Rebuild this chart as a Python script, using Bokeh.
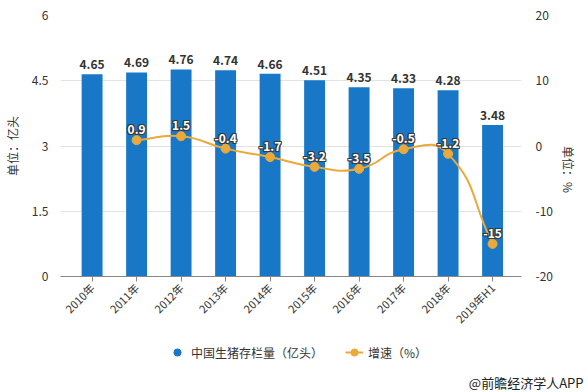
import math
from bokeh.plotting import figure
from bokeh.layouts import column
from bokeh.models import Range1d, LinearAxis, FixedTicker, Legend, LegendItem, Title
from bokeh.core.properties import value
from bokeh.embed import file_html
from bokeh.resources import INLINE

categories = ["2010年", "2011年", "2012年", "2013年", "2014年",
              "2015年", "2016年", "2017年", "2018年", "2019年H1"]
stock = [4.65, 4.69, 4.76, 4.74, 4.66, 4.51, 4.35, 4.33, 4.28, 3.48]
growth_cats = categories[1:]
growth = [0.9, 1.5, -0.4, -1.7, -3.2, -3.5, -0.5, -1.2, -15]
left_ticks = [0, 1.5, 3, 4.5, 6]
left_labels = ["0", "1.5", "3", "4.5", "6"]
right_ticks = [-20, -10, 0, 10, 20]
right_labels = ["-20", "-10", "0", "10", "20"]
legend_labels = ["中国生猪存栏量（亿头）", "增速（%）"]
source_note = "@前瞻经济学人APP"

FONT = "Noto Sans CJK SC"
BLUE = "#1878C7"
ORANGE = "#EBA93A"
TXT = "#333333"

W = 588
LH = 56                      # height of the legend strip below the chart
H = 392 - LH
ML, MR, MT, MB = 52, 55, 15, 60
FW, FH = W - ML - MR, H - MT - MB

xr = Range1d(-0.71, 9.65)
p = figure(width=W, height=H, output_backend="svg", toolbar_location=None,
           x_range=xr, y_range=Range1d(0, 6),
           min_border_left=ML, min_border_right=MR, min_border_top=MT, min_border_bottom=MB)
p.outline_line_color = None
p.background_fill_color = "white"
p.extra_y_ranges = {"right": Range1d(-20, 20)}

idx = list(range(len(categories)))
gidx = [categories.index(c) for c in growth_cats]

# axes
xa = p.xaxis[0]
xa.ticker = FixedTicker(ticks=idx)
xa.major_label_overrides = {i: c for i, c in zip(idx, categories)}
xa.major_label_orientation = math.pi / 4
xa.major_label_text_font = FONT
xa.major_label_text_font_size = "11px"
xa.major_label_text_color = TXT
xa.axis_line_color = "#888888"
xa.major_tick_line_color = "#888888"
xa.major_tick_out = 5
xa.major_tick_in = 0
xa.minor_tick_line_color = None
xa.major_label_standoff = 4

ya = p.yaxis[0]
ya.ticker = FixedTicker(ticks=left_ticks)
ya.major_label_overrides = {t: s for t, s in zip(left_ticks, left_labels)}
ya.axis_line_color = None
ya.major_tick_line_color = None
ya.minor_tick_line_color = None
ya.major_label_text_font = FONT
ya.major_label_text_font_size = "12px"
ya.major_label_text_color = TXT
ya.major_label_standoff = 6
ya.axis_label = "单位：亿头"
ya.axis_label_text_font = FONT
ya.axis_label_text_font_style = "normal"
ya.axis_label_text_font_size = "12px"
ya.axis_label_text_color = TXT
ya.axis_label_standoff = 8

ra = LinearAxis(y_range_name="right", ticker=FixedTicker(ticks=right_ticks))
ra.major_label_overrides = {t: s for t, s in zip(right_ticks, right_labels)}
ra.axis_line_color = None
ra.major_tick_line_color = None
ra.minor_tick_line_color = None
ra.major_label_text_font = FONT
ra.major_label_text_font_size = "12px"
ra.major_label_text_color = TXT
ra.major_label_standoff = 8
ra.axis_label = "单位：%"
ra.axis_label_orientation = -math.pi / 2
ra.axis_label_text_font = FONT
ra.axis_label_text_font_style = "normal"
ra.axis_label_text_font_size = "12px"
ra.axis_label_text_color = TXT
ra.axis_label_standoff = 13
p.add_layout(ra, "right")

p.xgrid.grid_line_color = None
p.ygrid.ticker = FixedTicker(ticks=left_ticks)
p.ygrid.grid_line_color = "#E3E3E3"

# bars
p.vbar(x=idx, top=stock, width=0.47, fill_color=BLUE, line_color=None)
p.text(x=idx, y=stock, text=[f"{v:.2f}" for v in stock], y_offset=-5,
       text_align="center", text_baseline="bottom", text_font=value(FONT),
       text_font_size="12px", text_font_style="bold", text_color=TXT)

# smooth line (echarts-like bezier through data points)
sx = FW / (xr.end - xr.start)
sy = FH / 40.0
n = len(gidx)
pts = list(zip(gidx, growth))
smooth = 0.5
cps = []
for i in range(n):
    x, y = pts[i]
    px, py = pts[i - 1] if i > 0 else pts[i]
    nx, ny = pts[i + 1] if i < n - 1 else pts[i]
    vx, vy = nx - px, ny - py
    d0 = math.hypot((x - px) * sx, (y - py) * sy)
    d1 = math.hypot((nx - x) * sx, (ny - y) * sy)
    tot = d0 + d1 if d0 + d1 > 0 else 1
    c_in = (x - vx * smooth * d0 / tot, y - vy * smooth * d0 / tot)
    c_out = (x + vx * smooth * d1 / tot, y + vy * smooth * d1 / tot)
    cps.append((c_in, c_out))
x0 = [pts[i][0] for i in range(n - 1)]
y0 = [pts[i][1] for i in range(n - 1)]
x1 = [pts[i + 1][0] for i in range(n - 1)]
y1 = [pts[i + 1][1] for i in range(n - 1)]
cx0 = [cps[i][1][0] for i in range(n - 1)]
cy0 = [cps[i][1][1] for i in range(n - 1)]
cx1 = [cps[i + 1][0][0] for i in range(n - 1)]
cy1 = [cps[i + 1][0][1] for i in range(n - 1)]
p.bezier(x0=x0, y0=y0, x1=x1, y1=y1, cx0=cx0, cy0=cy0, cx1=cx1, cy1=cy1,
         line_color=ORANGE, line_width=2, y_range_name="right")
p.scatter(x=gidx, y=growth, size=9, fill_color=ORANGE, line_color=ORANGE,
          y_range_name="right")

# growth labels: white text with dark outline
glabels = [("%g" % v) for v in growth]
for dx, dy in [(-1, 0), (1, 0), (0, -1), (0, 1), (-1, -1), (1, -1), (-1, 1), (1, 1)]:
    p.text(x=gidx, y=growth, text=glabels, x_offset=dx, y_offset=-6 + dy,
           text_align="center", text_baseline="bottom", text_font=value(FONT),
           text_font_size="12px", text_font_style="bold", text_color="#3a3a3a",
           y_range_name="right")
p.text(x=gidx, y=growth, text=glabels, y_offset=-6,
       text_align="center", text_baseline="bottom", text_font=value(FONT),
       text_font_size="12px", text_font_style="bold", text_color="white",
       y_range_name="right")

# legend strip (separate figure below the chart)
lf = figure(width=W, height=LH, output_backend="svg", toolbar_location=None,
            x_axis_type=None, y_axis_type=None,
            x_range=Range1d(0, 1), y_range=Range1d(0, 1),
            min_border_left=0, min_border_right=0, min_border_top=0, min_border_bottom=0)
lf.grid.visible = False
lf.outline_line_color = None
d_bar = lf.scatter(x=[-50], y=[-50], size=13, marker="circle", fill_color=BLUE, line_color=BLUE)
d_line = lf.line(x=[-50, -40], y=[-50, -50], line_color=ORANGE, line_width=2)
d_dot = lf.scatter(x=[-50], y=[-50], size=9, fill_color=ORANGE, line_color=ORANGE)
legend = Legend(items=[LegendItem(label=legend_labels[0], renderers=[d_bar]),
                       LegendItem(label=legend_labels[1], renderers=[d_line, d_dot])],
                orientation="horizontal", location=(108, 7),
                label_text_font=FONT, label_text_font_size="12px",
                label_text_color=TXT, border_line_color=None,
                background_fill_alpha=0, glyph_width=18, label_standoff=5,
                spacing=22, padding=2, margin=0)
lf.add_layout(legend, "center")
wm = Title(text=source_note, align="right", offset=-62, standoff=2,
           text_font=FONT, text_font_size="13px", text_font_style="normal",
           text_color="#222222")
lf.add_layout(wm, "below")

open("out.html", "w").write(file_html(column(p, lf, spacing=0), INLINE))
